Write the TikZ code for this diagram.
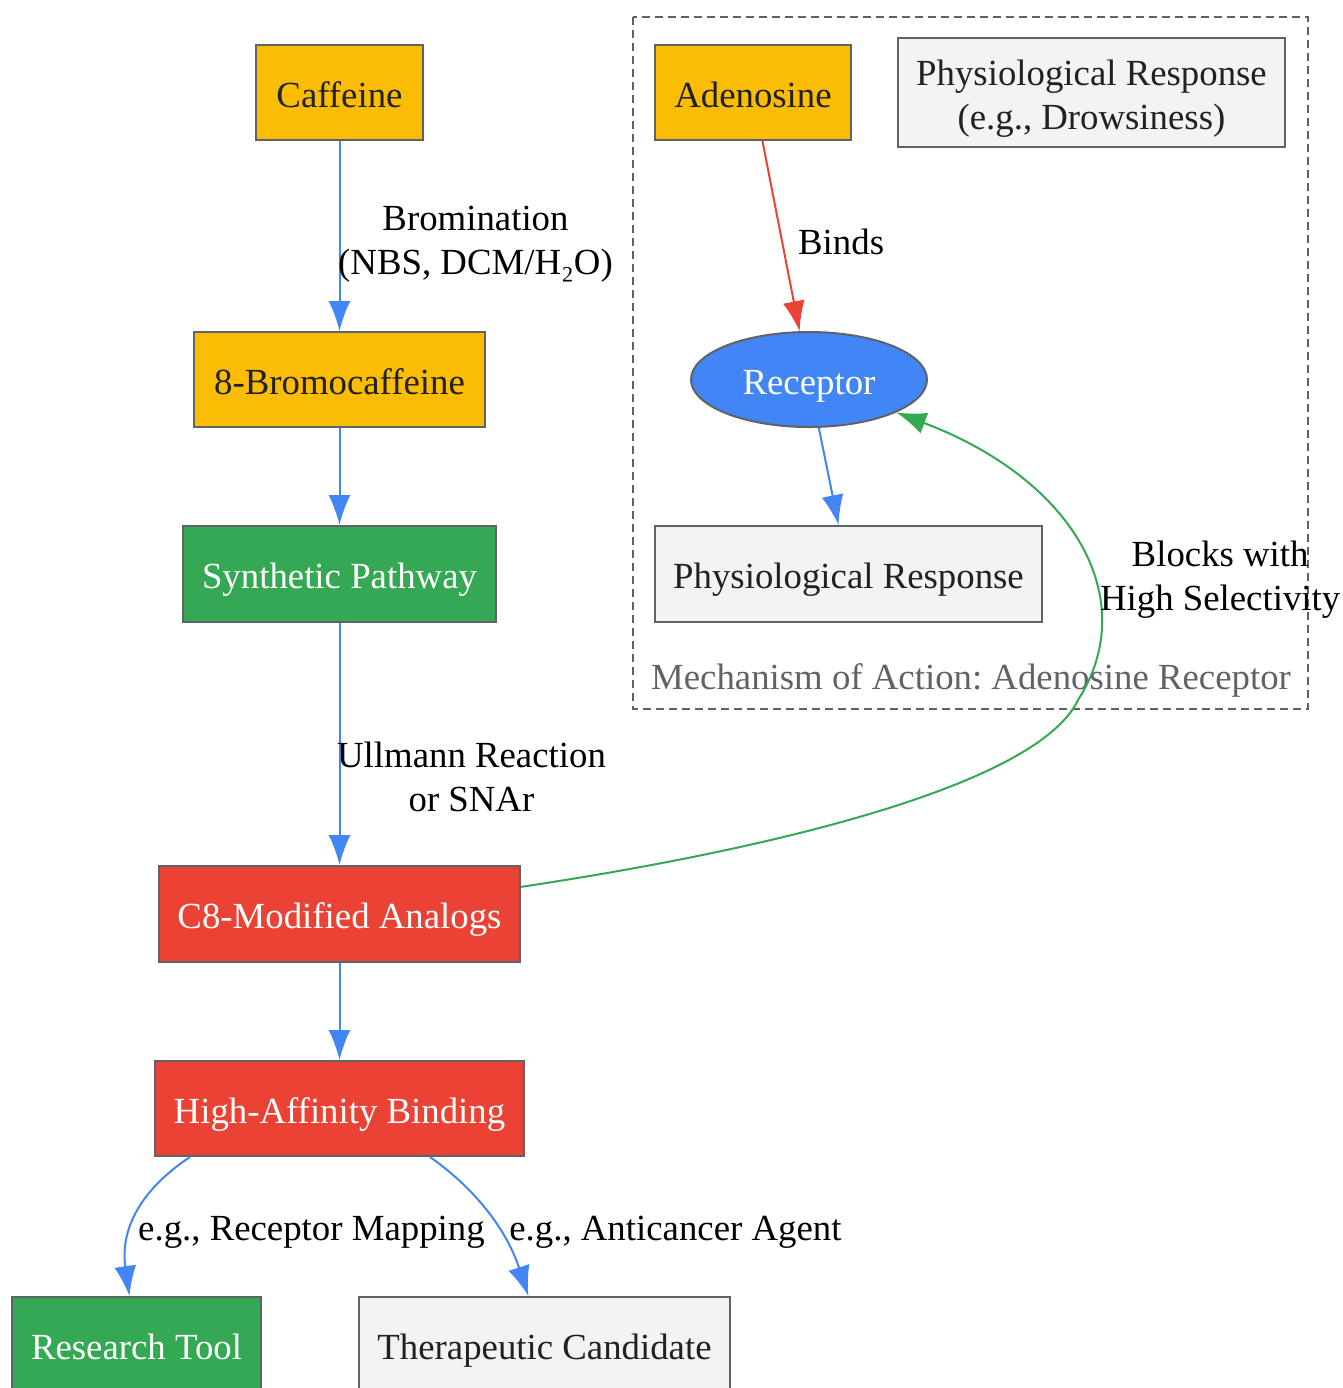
\documentclass[tikz,border=0pt]{standalone}
\usepackage{fontspec}
\setmainfont{Liberation Serif}
\usetikzlibrary{arrows.meta,shapes.geometric}
\definecolor{gyellow}{HTML}{FBBC04}
\definecolor{ggreen}{HTML}{34A853}
\definecolor{gred}{HTML}{EA4335}
\definecolor{gblue}{HTML}{4285F4}
\definecolor{ggrey}{HTML}{F1F3F4}
\definecolor{gedge}{HTML}{5F6368}
\definecolor{gtext}{HTML}{202124}
\frenchspacing

\begin{document}
\begin{tikzpicture}[x=0.5pt,y=-0.5pt,
font=\fontsize{18.4}{22}\selectfont,
box/.style={rectangle, draw=gedge, line width=1pt, inner sep=0pt, align=center, text height=14.5pt, text depth=0pt},
yellowbox/.style={box, fill=gyellow, text=gtext},
greenbox/.style={box, fill=ggreen, text=white},
redbox/.style={box, fill=gred, text=white},
greybox/.style={box, fill=ggrey, text=gtext},
roundnode/.style={ellipse, draw=gedge, fill=gblue, text=white, line width=1pt, inner sep=0pt, text height=14.5pt, text depth=0pt},
flow/.style={color=gblue, line width=1pt, -{Latex[length=15pt,width=11pt]}},
lbl/.style={text=black, align=center, inner sep=0pt}
]
    \useasboundingbox (0,0) rectangle (1343,1388);

    % cluster
    \draw [gedge, line width=1pt, dash pattern=on 4pt off 2.5pt] (633,17) rectangle (1308,709);
    \node [text=gedge] (title) at (971,680) {Mechanism of Action: Adenosine Receptor};

    % synthesis
    \node [yellowbox, minimum width=83.5pt, minimum height=47.5pt] (caf) at (339.5,92.5) {Caffeine};
    \node [yellowbox, minimum width=145.5pt, minimum height=47.5pt] (bromo) at (339.5,379.5) {8-Bromocaffeine};
    \node [greenbox, minimum width=156.5pt, minimum height=48pt] (syn) at (339.5,574) {Synthetic Pathway};
    \node [redbox, minimum width=180.5pt, minimum height=48pt] (c8) at (339.5,914) {C8-Modified Analogs};
    \node [redbox, minimum width=184.5pt, minimum height=47.5pt] (hab) at (339.5,1108.5) {High-Affinity Binding};
    \node [greenbox, minimum width=124.5pt, minimum height=48pt] (res) at (136.5,1345) {Research Tool};
    \node [greybox, minimum width=185.5pt, minimum height=48pt] (the) at (544.5,1345) {Therapeutic Candidate};

    % mechanism
    \node [yellowbox, minimum width=98pt, minimum height=47.5pt] (ade) at (753,92.5) {Adenosine};
    \node [greybox, text height=36.5pt, minimum width=193.5pt, minimum height=54.5pt] (phd) at (1091.5,92.5) {Physiological Response\\(e.g., Drowsiness)};
    \node [roundnode, minimum width=118pt, minimum height=47.5pt] (rec) at (809,379.5) {Receptor};
    \node [greybox, minimum width=193.5pt, minimum height=48pt] (phr) at (848.5,574) {Physiological Response};

    \draw [flow] (caf) edge node[lbl, xshift=68pt, yshift=-4pt] {Bromination\\(NBS, DCM/H₂O)} (bromo);
    \draw [flow] (bromo) edge (syn);
    \draw [flow] (syn) edge node[lbl, pos=0.636, xshift=66pt] {Ullmann Reaction\\or SNAr} (c8);
    \draw [flow] (c8) edge (hab);
    \draw [flow] ([xshift=-74.75pt]hab.south) .. controls (140,1190) and (120,1230) .. (res)
        node[lbl, pos=0.5, xshift=87pt, yshift=-9pt] {e.g., Receptor Mapping};
    \draw [flow] ([xshift=45.25pt]hab.south) .. controls (470,1185) and (505,1225) .. (the)
        node[lbl, pos=0.5, xshift=95pt, yshift=-11pt] {e.g., Anticancer Agent};

    \draw [flow, color=gred] (ade) edge node[lbl, pos=0.53, xshift=29.5pt] {Binds} (rec);
    \draw [flow] (rec) edge (phr);

    \coordinate (bend) at (1078,700);
    \draw [flow, color=ggreen] (c8) .. controls (800,845) and (1040,780) .. (bend)
        .. controls (1142,600) and (1075,480) .. (rec)
        node[lbl, pos=0.5, xshift=71pt, yshift=-18pt] {Blocks with\\High Selectivity};
\end{tikzpicture}
\end{document}
